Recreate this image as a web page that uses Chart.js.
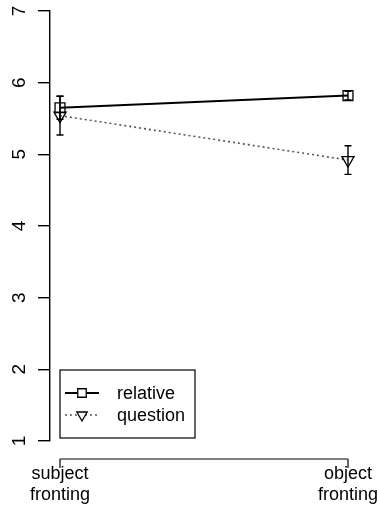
<!DOCTYPE html>
<html>
<head>
<meta charset="utf-8">
<script src="https://cdn.jsdelivr.net/npm/chart.js@4"></script>
<style>
html,body{margin:0;padding:0;background:#fff;}
#c{display:block;}
</style>
</head>
<body>
<canvas id="c" width="377" height="507"></canvas>
<script>
const categories = ['subject fronting', 'object fronting'];
const seriesNames = ['relative', 'question'];
const relative = [5.65, 5.82];
const relativeErr = [0.16, 0.06];
const question = [5.54, 4.92];
const questionErr = [0.27, 0.20];
const yTicks = [1, 2, 3, 4, 5, 6, 7];

const FONT = '"Liberation Sans", Arial, Helvetica, sans-serif';
const errs = [relativeErr, questionErr];

const errorBars = {
  id: 'errorBars',
  afterDatasetsDraw(chart) {
    const {ctx, scales: {x, y}} = chart;
    ctx.save();
    ctx.strokeStyle = '#000';
    ctx.lineWidth = 1.4;
    chart.data.datasets.forEach((ds, di) => {
      ds.data.forEach((p, i) => {
        const e = errs[di][i];
        const px = x.getPixelForValue(p.x);
        const y1 = y.getPixelForValue(p.y + e);
        const y2 = y.getPixelForValue(p.y - e);
        ctx.beginPath();
        ctx.moveTo(px, y1); ctx.lineTo(px, y2);
        ctx.moveTo(px - 3.5, y1); ctx.lineTo(px + 3.5, y1);
        ctx.moveTo(px - 3.5, y2); ctx.lineTo(px + 3.5, y2);
        ctx.stroke();
      });
    });
    ctx.restore();
  }
};

const xAxisLine = {
  id: 'xAxisLine',
  afterDraw(chart) {
    const {ctx, scales: {x}, chartArea} = chart;
    const yy = chartArea.bottom + 18;
    const x0 = x.getPixelForValue(0);
    const x1 = x.getPixelForValue(categories.length - 1);
    ctx.save();
    ctx.strokeStyle = '#000';
    ctx.lineWidth = 1.2;
    ctx.beginPath();
    ctx.moveTo(x0, yy); ctx.lineTo(x1, yy);
    categories.forEach((c, i) => {
      const px = x.getPixelForValue(i);
      ctx.moveTo(px, yy); ctx.lineTo(px, yy + 9);
    });
    ctx.stroke();
    ctx.restore();
  }
};

const boxLegend = {
  id: 'boxLegend',
  afterDraw(chart) {
    const {ctx, scales: {x}, chartArea} = chart;
    const left = x.getPixelForValue(0);
    const bottom = chartArea.bottom - 3;
    const w = 135, h = 68;
    const top = bottom - h;
    ctx.save();
    ctx.strokeStyle = '#000';
    ctx.lineWidth = 1.2;
    ctx.strokeRect(left, top, w, h);
    chart.data.datasets.forEach((ds, i) => {
      const cy = top + 23 + i * 22;
      ctx.save();
      ctx.strokeStyle = ds.borderColor;
      ctx.lineWidth = ds.borderWidth;
      ctx.setLineDash(ds.borderDash || []);
      ctx.beginPath();
      ctx.moveTo(left + 5, cy); ctx.lineTo(left + 39, cy);
      ctx.stroke();
      ctx.restore();
      ctx.save();
      ctx.strokeStyle = '#000';
      ctx.fillStyle = '#fff';
      ctx.lineWidth = 1.3;
      Chart.helpers.drawPoint(ctx, {pointStyle: ds.pointStyle, rotation: ds.pointRotation, radius: 6, borderWidth: 1.3}, left + 22, cy);
      ctx.restore();
      ctx.save();
      ctx.font = '18px ' + FONT;
      ctx.fillStyle = '#000';
      ctx.textBaseline = 'middle';
      ctx.textAlign = 'left';
      ctx.fillText(ds.label, left + 57, cy + 1);
      ctx.restore();
    });
    ctx.restore();
  }
};

new Chart(document.getElementById('c'), {
  type: 'line',
  data: {
    datasets: [
      {
        label: seriesNames[0],
        data: relative.map((v, i) => ({x: i, y: v})),
        borderColor: '#000',
        borderWidth: 2,
        pointStyle: 'rect',
        pointRadius: 7,
        pointRotation: 0,
        pointBorderColor: '#000',
        pointBorderWidth: 1.3,
        pointBackgroundColor: 'rgba(0,0,0,0)',
        tension: 0
      },
      {
        label: seriesNames[1],
        data: question.map((v, i) => ({x: i, y: v})),
        borderColor: '#555',
        borderWidth: 1.6,
        borderDash: [2, 3],
        pointStyle: 'triangle',
        pointRotation: 180,
        pointRadius: 7,
        pointBorderColor: '#000',
        pointBorderWidth: 1.3,
        pointBackgroundColor: 'rgba(0,0,0,0)',
        tension: 0
      }
    ]
  },
  options: {
    responsive: false,
    animation: false,
    devicePixelRatio: 1,
    layout: {padding: {top: 11, right: 19, left: 0, bottom: 0}},
    plugins: {legend: {display: false}, tooltip: {enabled: false}},
    scales: {
      x: {
        type: 'linear',
        min: -10 / 288,
        max: 1 + 10 / 288,
        afterBuildTicks: (s) => { s.ticks = categories.map((c, i) => ({value: i})); },
        afterFit: (s) => { s.height = 66; s.paddingLeft = 0; s.paddingRight = 0; },
        grid: {display: false, drawTicks: false},
        border: {display: false},
        ticks: {
          autoSkip: false,
          maxRotation: 0,
          minRotation: 0,
          padding: 22,
          color: '#000',
          font: {family: FONT, size: 18, lineHeight: 1.2},
          callback: (v) => categories[v] ? categories[v].split(' ') : ''
        }
      },
      y: {
        type: 'linear',
        min: yTicks[0],
        max: yTicks[yTicks.length - 1],
        afterBuildTicks: (s) => { s.ticks = yTicks.map(v => ({value: v})); },
        afterFit: (s) => { s.width = 50; s.paddingTop = 0; s.paddingBottom = 0; },
        grid: {drawOnChartArea: false, drawTicks: true, tickLength: 12, color: '#000', lineWidth: 1.4},
        border: {display: true, color: '#000', width: 1.4},
        ticks: {
          minRotation: 90,
          maxRotation: 90,
          crossAlign: 'center',
          padding: 13,
          color: '#000',
          font: {family: FONT, size: 19}
        }
      }
    }
  },
  plugins: [errorBars, xAxisLine, boxLegend]
});
</script>
</body>
</html>
